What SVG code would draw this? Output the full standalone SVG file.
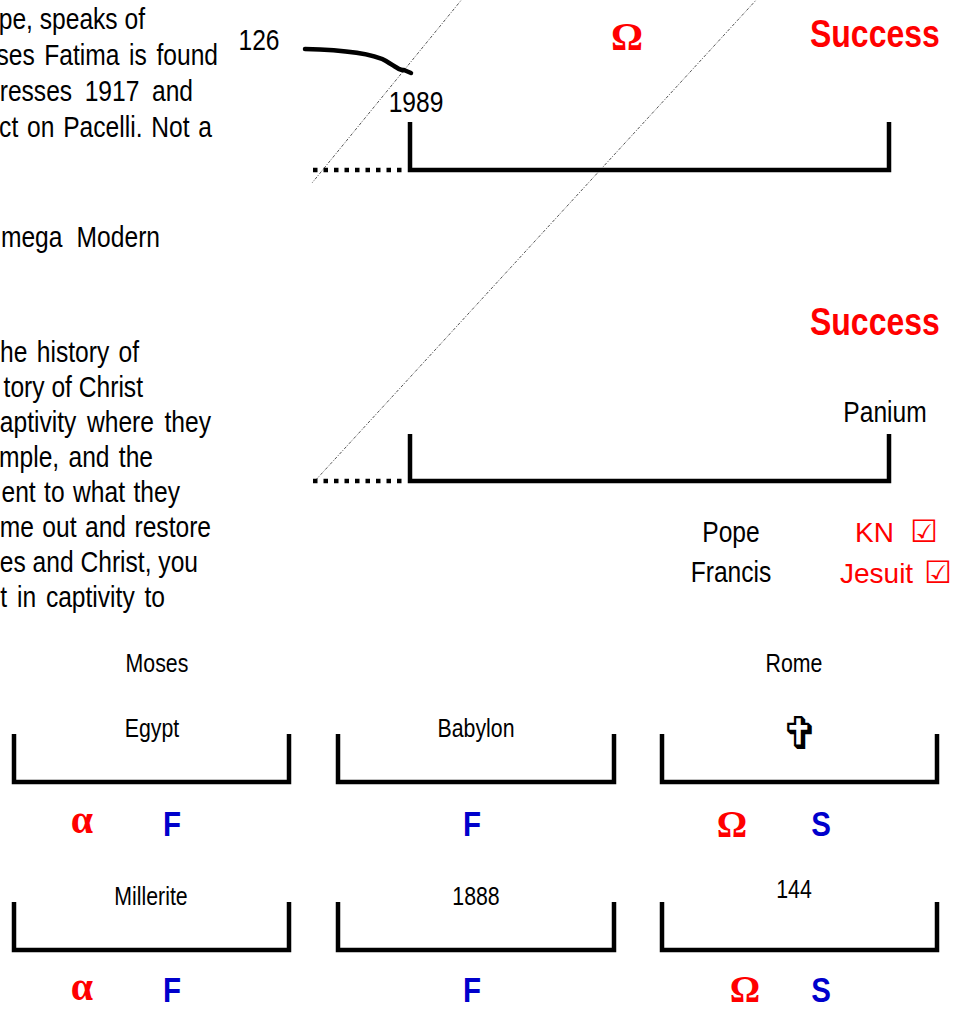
<svg xmlns="http://www.w3.org/2000/svg" width="967" height="1009" viewBox="0 0 967 1009">
<style>
text{font-family:"Liberation Sans",Arial,sans-serif;fill:#000}
.p{font-size:30px;text-anchor:end}
.m{font-size:30px;text-anchor:middle}
.s{font-size:26px;text-anchor:middle}
.succ{font-size:39px;font-weight:bold;fill:#FF0000}
.red{fill:#FF0000}
.blue{font-size:36px;font-weight:bold;fill:#0000CC;text-anchor:middle}
.gr{font-family:"Liberation Serif","Times New Roman",serif;font-weight:bold;fill:#FF0000;text-anchor:middle}
.sym{font-family:"DejaVu Sans",sans-serif}
.br{fill:none;stroke:#000;stroke-width:4.5;stroke-linejoin:miter}
.dot{fill:none;stroke:#000;stroke-width:4.5;stroke-dasharray:4.5 6}
.diag{fill:none;stroke:#555;stroke-width:1;stroke-dasharray:3 1.5 1 1.5}
</style>
<g id="paragraph-1">
<text class="p" transform="translate(145,29) scale(.82,1)">pe, speaks of</text>
<text class="p" transform="translate(218,65) scale(.82,1)" word-spacing="3.4">ses Fatima is found</text>
<text class="p" transform="translate(193,101) scale(.82,1)" word-spacing="7">resses 1917 and</text>
<text class="p" transform="translate(212,137) scale(.82,1)" word-spacing="2.4">ct on Pacelli. Not a</text>
<text class="p" transform="translate(160,247) scale(.82,1)" word-spacing="9">mega Modern</text>
</g>
<g id="paragraph-2">
<text class="p" transform="translate(139,362) scale(.82,1)" word-spacing="3">he history of</text>
<text class="p" transform="translate(143,397) scale(.82,1)">tory of Christ</text>
<text class="p" transform="translate(211,432) scale(.82,1)" word-spacing="4.6">aptivity where they</text>
<text class="p" transform="translate(153,467) scale(.82,1)" word-spacing="3">mple, and the</text>
<text class="p" transform="translate(180,502) scale(.82,1)" word-spacing="2">ent to what they</text>
<text class="p" transform="translate(211,537) scale(.82,1)" word-spacing="2">me out and restore</text>
<text class="p" transform="translate(198,572) scale(.82,1)">es and Christ, you</text>
<text class="p" transform="translate(165,607) scale(.82,1)" word-spacing="3.6">t in captivity to</text>
</g>
<g id="connectors">
<line class="diag" x1="463" y1="-2" x2="312" y2="183"/>
<line class="diag" x1="758" y1="-2" x2="313" y2="483"/>
<path d="M305,49 C345,50 372,53 386,61 C396,67 400,71 404,70 L411,73" fill="none" stroke="#000" stroke-width="4.5" stroke-linecap="round"/>
</g>
<g id="label-126"><text class="m" transform="translate(259,50) scale(.82,1)">126</text></g>
<g id="timeline-top">
<line class="dot" x1="313" y1="170" x2="407" y2="170"/>
<path class="br" d="M410,122 V170 H889 V122"/>
<text class="m" transform="translate(416,112) scale(.82,1)">1989</text>
<text class="gr" x="627" y="50" font-size="40">Ω</text>
<text class="succ" transform="translate(810,47) scale(.82,1)">Success</text>
</g>
<g id="timeline-mid">
<line class="dot" x1="313" y1="481" x2="407" y2="481"/>
<path class="br" d="M410,434 V481 H889 V434"/>
<text class="succ" transform="translate(810,335) scale(.82,1)">Success</text>
<text class="m" transform="translate(885,422) scale(.82,1)">Panium</text>
</g>
<g id="pope-francis">
<text class="m" transform="translate(731,542) scale(.82,1)">Pope</text>
<text class="m" transform="translate(731,582) scale(.82,1)">Francis</text>
</g>
<g id="checks">
<text class="red" x="855" y="542" font-size="28">KN<tspan class="sym" x="910" font-size="31" font-weight="bold" fill="#FF0000">☑</tspan></text>
<text class="red" x="840" y="583" font-size="28">Jesuit<tspan class="sym" x="924" font-size="31" font-weight="bold" fill="#FF0000">☑</tspan></text>
</g>
<g id="moses-egypt">
<text class="s" transform="translate(157,672) scale(.82,1)">Moses</text>
<text class="s" transform="translate(152,737) scale(.82,1)">Egypt</text>
<path class="br" d="M14,734 V782 H289 V734"/>
<text class="gr" x="82" y="833" font-size="40">α</text>
<text class="blue" transform="translate(172,836) scale(.82,1)">F</text>
</g>
<g id="babylon">
<text class="s" transform="translate(476,737) scale(.82,1)">Babylon</text>
<path class="br" d="M338,734 V782 H614 V734"/>
<text class="blue" transform="translate(472,836) scale(.82,1)">F</text>
</g>
<g id="rome">
<text class="s" transform="translate(794,672) scale(.82,1)">Rome</text>
<text class="sym" x="800" y="749" font-size="45" text-anchor="middle">✞</text>
<path class="br" d="M662,734 V782 H937 V734"/>
<text class="gr" x="732" y="837" font-size="38">Ω</text>
<text class="blue" transform="translate(821,836) scale(.82,1)">S</text>
</g>
<g id="millerite">
<text class="s" transform="translate(151,905) scale(.82,1)">Millerite</text>
<path class="br" d="M14,902 V950 H289 V902"/>
<text class="gr" x="82" y="1000" font-size="40">α</text>
<text class="blue" transform="translate(172,1002) scale(.82,1)">F</text>
</g>
<g id="y1888">
<text class="s" transform="translate(476,905) scale(.82,1)">1888</text>
<path class="br" d="M338,902 V950 H614 V902"/>
<text class="blue" transform="translate(472,1002) scale(.82,1)">F</text>
</g>
<g id="y144">
<text class="s" transform="translate(794,898) scale(.82,1)">144</text>
<path class="br" d="M662,902 V950 H937 V902"/>
<text class="gr" x="745" y="1002" font-size="38">Ω</text>
<text class="blue" transform="translate(821,1002) scale(.82,1)">S</text>
</g>
</svg>
